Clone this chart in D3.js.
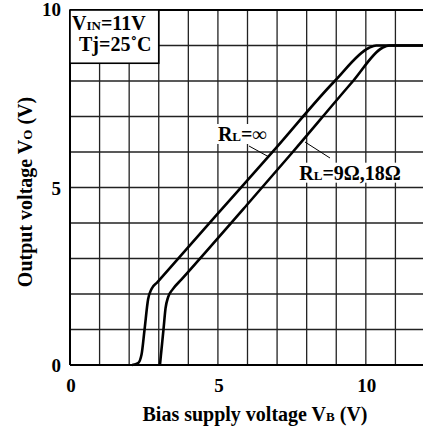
<!DOCTYPE html>
<html>
<head>
<meta charset="utf-8">
<script src="https://cdn.jsdelivr.net/npm/d3@7"></script>
<style>
  body { margin: 0; background: #fff; }
  text { font-family: "Liberation Serif", "Times New Roman", serif; font-weight: bold; fill: #000; }
</style>
</head>
<body>
<svg width="423" height="430"></svg>
<script>
// values
var xTicks = [0, 5, 10];
var yTicks = [0, 5, 10];
var gridX = d3.range(1, 12);
var gridY = d3.range(1, 10);

// R_L = infinity
var infVb = [2.1, 2.3, 2.42, 2.52, 2.64, 2.76, 2.95, 4.95, 6.93, 8.95, 10.1, 10.35, 12];
var infVo = [0, 0.05, 0.3, 1.0, 1.85, 2.15, 2.33, 4.22, 6.08, 8.0, 8.93, 9.0, 9.0];
// R_L = 9 ohm, 18 ohm
var loadVb = [3.04, 3.1, 3.16, 3.23, 3.32, 3.47, 3.77, 5.97, 7.53, 9.57, 10.55, 10.8, 12];
var loadVo = [0, 0.5, 1.0, 1.6, 1.92, 2.13, 2.41, 4.5, 6.0, 8.0, 8.93, 9.0, 9.0];

function main() {
	var svg = d3.select('svg');
	var x = d3.scaleLinear().domain([0, 12]).range([70, 425]);
	var y = d3.scaleLinear().domain([0, 10]).range([365, 10]);

	var g = svg.append('g');

	// grid
	g.selectAll('.gx').data(gridX).enter().append('line')
		.attr('x1', d => x(d)).attr('x2', d => x(d))
		.attr('y1', y(0)).attr('y2', y(10))
		.attr('stroke', '#222').attr('stroke-width', 1.3);
	g.selectAll('.gy').data(gridY).enter().append('line')
		.attr('x1', x(0)).attr('x2', 423)
		.attr('y1', d => y(d)).attr('y2', d => y(d))
		.attr('stroke', '#222').attr('stroke-width', 1.3);

	// frame
	g.append('line').attr('x1', x(0)).attr('x2', 423).attr('y1', y(10)).attr('y2', y(10))
		.attr('stroke', '#000').attr('stroke-width', 2);
	g.append('line').attr('x1', x(0)).attr('x2', 423).attr('y1', y(0)).attr('y2', y(0))
		.attr('stroke', '#000').attr('stroke-width', 2);
	g.append('line').attr('x1', x(0)).attr('x2', x(0)).attr('y1', y(0)).attr('y2', y(10))
		.attr('stroke', '#000').attr('stroke-width', 2);

	// condition box
	g.append('rect').attr('x', x(0)).attr('y', y(10))
		.attr('width', x(3) - x(0)).attr('height', y(8.5) - y(10))
		.attr('fill', '#fff').attr('stroke', '#000').attr('stroke-width', 1.6);
	var t1 = g.append('text').attr('x', x(0) + 2).attr('y', 30).style('font-size', '20px');
	t1.append('tspan').text('V');
	t1.append('tspan').text('IN').style('font-size', '13px');
	t1.append('tspan').text('=11V');
	g.append('text').attr('x', x(0) + 9).attr('y', 51).style('font-size', '20px')
		.text('Tj=25\u02DAC');

	// curves
	var line = d3.line()
		.x(d => x(d[0])).y(d => y(d[1]))
		.curve(d3.curveMonotoneX);
	var series = [d3.zip(infVb, infVo), d3.zip(loadVb, loadVo)];
	g.selectAll('.curve').data(series).enter().append('path')
		.attr('d', line)
		.attr('fill', 'none').attr('stroke', '#000').attr('stroke-width', 2.6);

	// labels
	function label(px, py, sub, rest) {
		var t = g.append('text').attr('x', x(px)).attr('y', y(py)).style('font-size', '20px');
		t.append('tspan').text('R');
		t.append('tspan').text(sub).style('font-size', '13px');
		t.append('tspan').text(rest);
		var b = t.node().getBBox();
		g.insert('rect', function() { return t.node(); })
			.attr('x', b.x - 2).attr('y', b.y + 1).attr('width', b.width + 4).attr('height', b.height - 2)
			.attr('fill', '#fff');
	}
	label(5.0, 6.31, 'L', '=\u221E');
	label(7.75, 5.22, 'L', '=9\u03A9,18\u03A9');

	// leaders
	g.append('line').attr('x1', 249).attr('y1', 146).attr('x2', 269).attr('y2', 157)
		.attr('stroke', '#000').attr('stroke-width', 1);
	g.append('line').attr('x1', 305).attr('y1', 142).attr('x2', 330).attr('y2', 158)
		.attr('stroke', '#000').attr('stroke-width', 1);

	// tick labels
	g.selectAll('.yt').data(yTicks).enter().append('text')
		.attr('x', 61).attr('y', d => d === 10 ? 16 : y(d) + 7)
		.attr('text-anchor', 'end')
		.style('font-size', '19px').text(d => d);
	g.selectAll('.xt').data(xTicks).enter().append('text')
		.attr('x', d => x(d) + 1).attr('y', 392)
		.attr('text-anchor', 'middle')
		.style('font-size', '19px').text(d => d);

	// axis titles
	var xt = g.append('text').attr('x', 255).attr('y', 421).attr('text-anchor', 'middle')
		.style('font-size', '20px');
	xt.append('tspan').text('Bias supply voltage V');
	xt.append('tspan').text('B').style('font-size', '13px');
	xt.append('tspan').text(' (V)');

	var yt = g.append('text').attr('transform', 'translate(32,192) rotate(-90)')
		.attr('text-anchor', 'middle').style('font-size', '20px');
	yt.append('tspan').text('Output voltage V');
	yt.append('tspan').text('O').style('font-size', '13px');
	yt.append('tspan').text(' (V)');
}
main();
</script>
</body>
</html>
